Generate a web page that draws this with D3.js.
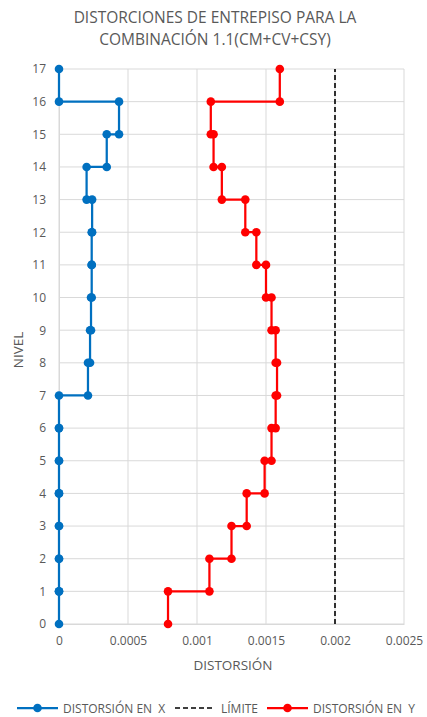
<!DOCTYPE html>
<html><head><meta charset="utf-8">
<script src="https://cdn.jsdelivr.net/npm/d3@7"></script>
<style>body{margin:0;background:#fff;} svg{display:block;font-family:"Open Sans",sans-serif;} text{white-space:pre;}</style>
</head><body><svg id="c" width="427" height="717"></svg>
<script>
const levels = d3.range(0, 18);
// storey drift (storey i spans level i-1 to level i), i = 1..17
const driftX = [0,0,0,0,0,0,0,0.00021,0.000225,0.000232,0.000237,0.000237,0.00024,0.0002,0.000346,0.000435,0];
const driftY = [0.00079,0.00109,0.00125,0.00136,0.00149,0.00154,0.00157,0.00158,0.00157,0.00154,0.0015,0.00143,0.00135,0.00118,0.00112,0.0011,0.0016];
const limit = 0.002;
const xTicks = [0,0.0005,0.001,0.0015,0.002,0.0025];
const xTickLabels = ["0","0.0005","0.001","0.0015","0.002","0.0025"];
const title = ["DISTORCIONES DE ENTREPISO PARA LA","COMBINACIÓN 1.1(CM+CV+CSY)"];
const seriesNames = ["DISTORSIÓN EN  X","LÍMITE","DISTORSIÓN EN  Y"];

function stepPoints(drift){
  const pts=[];
  drift.forEach((d,i)=>{ pts.push([d,i]); pts.push([d,i+1]); });
  return pts;
}
const svg=d3.select("#c");
const x=d3.scaleLinear().domain([0,0.0025]).range([59,404]);
const y=d3.scaleLinear().domain([0,17]).range([624,69]);
const grey="#595959", grid="#d9d9d9";

// gridlines
svg.append("g").selectAll("line").data(levels).join("line")
 .attr("x1",x(0)).attr("x2",x(0.0025)).attr("y1",d=>y(d)).attr("y2",d=>y(d))
 .attr("stroke",grid).attr("stroke-width",1);
svg.append("g").selectAll("line").data(xTicks).join("line")
 .attr("x1",d=>x(d)).attr("x2",d=>x(d)).attr("y1",y(0)).attr("y2",y(17))
 .attr("stroke",grid).attr("stroke-width",1);

// axes
const xAxis=svg.append("g").attr("transform",`translate(0,${y(0)})`)
 .call(d3.axisBottom(x).tickValues(xTicks).tickFormat((d,i)=>xTickLabels[i]).tickSize(0).tickPadding(12));
xAxis.select(".domain").attr("stroke",grid);
xAxis.selectAll("text").attr("fill",grey).style("font-size","12px").style("font-family","'Open Sans',sans-serif");
const yAxis=svg.append("g").attr("transform",`translate(${x(0)},0)`)
 .call(d3.axisLeft(y).tickValues(levels).tickFormat(d3.format("d")).tickSize(0).tickPadding(13));
yAxis.select(".domain").attr("stroke",grid);
yAxis.selectAll("text").attr("fill",grey).style("font-size","12px").style("font-family","'Open Sans',sans-serif");

// limit
svg.append("line").attr("x1",x(limit)).attr("x2",x(limit)).attr("y1",y(0)).attr("y2",y(17))
 .attr("stroke","#000").attr("stroke-width",1.6).attr("stroke-dasharray","5,3");

const line=d3.line().x(d=>x(d[0])).y(d=>y(d[1]));
function drawSeries(drift,color){
  const pts=stepPoints(drift);
  svg.append("path").datum(pts).attr("d",line).attr("fill","none").attr("stroke",color).attr("stroke-width",2.25);
  svg.append("g").selectAll("circle").data(pts).join("circle")
   .attr("cx",d=>x(d[0])).attr("cy",d=>y(d[1])).attr("r",4.3).attr("fill",color);
}
drawSeries(driftX,"#0070c0");
drawSeries(driftY,"#ff0000");

// title
svg.append("text").attr("x",215).attr("y",0).attr("text-anchor","middle").attr("fill",grey)
 .style("font-size","15.5px")
 .selectAll("tspan").data(title).join("tspan").attr("x",215).attr("y",(d,i)=>23+i*22).text(d=>d);

// axis titles
svg.append("text").attr("x",233).attr("y",670).attr("text-anchor","middle").attr("fill",grey).style("font-size","13.5px").text("DISTORSIÓN");
svg.append("text").attr("transform","translate(23,350) rotate(-90)").attr("text-anchor","middle").attr("fill",grey).style("font-size","13.5px").text("NIVEL");

// legend
const ly=708;
const lg=svg.append("g");
lg.append("line").attr("x1",17).attr("x2",58).attr("y1",ly).attr("y2",ly).attr("stroke","#0070c0").attr("stroke-width",2.25);
lg.append("circle").attr("cx",37.5).attr("cy",ly).attr("r",4.3).attr("fill","#0070c0");
lg.append("text").attr("x",63).attr("y",ly+4.5).attr("fill",grey).style("font-size","12px").text(seriesNames[0]);
lg.append("line").attr("x1",175).attr("x2",213).attr("y1",ly).attr("y2",ly).attr("stroke","#000").attr("stroke-width",1.6).attr("stroke-dasharray","5,3");
lg.append("text").attr("x",221).attr("y",ly+4.5).attr("fill",grey).style("font-size","12px").text(seriesNames[1]);
lg.append("line").attr("x1",267).attr("x2",308).attr("y1",ly).attr("y2",ly).attr("stroke","#ff0000").attr("stroke-width",2.25);
lg.append("circle").attr("cx",287.5).attr("cy",ly).attr("r",4.3).attr("fill","#ff0000");
lg.append("text").attr("x",313).attr("y",ly+4.5).attr("fill",grey).style("font-size","12px").text(seriesNames[2]);
</script></body></html>
